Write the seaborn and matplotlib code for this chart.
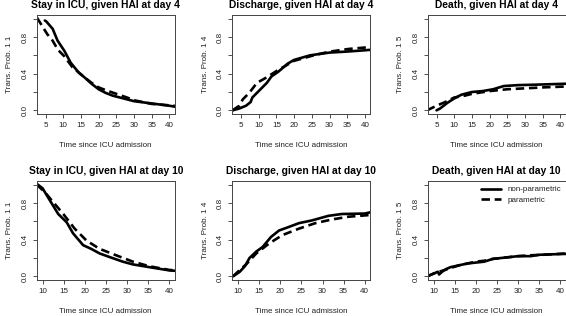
import matplotlib

matplotlib.use("Agg")
import matplotlib.pyplot as plt
import pandas as pd
import seaborn as sns

# --- data (time since ICU admission, transition probability) ---
titles = [
    "Stay in ICU, given HAI at day 4",
    "Discharge, given HAI at day 4",
    "Death, given HAI at day 4",
    "Stay in ICU, given HAI at day 10",
    "Discharge, given HAI at day 10",
    "Death, given HAI at day 10",
]
ylabels = ["Trans. Prob. 1 1", "Trans. Prob. 1 4", "Trans. Prob. 1 5"] * 2
methods = ["non-parametric", "parametric"]

# HAI at day 4
t_stay4_np = [4.8, 5.2, 7.0, 8.4, 10.3, 12.1, 14.4, 16, 18, 20, 22, 24, 26, 28, 30, 32, 34, 36, 38, 40, 41.5]
p_stay4_np = [0.98, 0.97, 0.89, 0.76, 0.65, 0.52, 0.41, 0.36, 0.29, 0.23, 0.19, 0.16, 0.14, 0.12, 0.10, 0.09, 0.08, 0.07, 0.06, 0.05, 0.04]
t_stay4_p = [2.6, 4.2, 5.5, 7.0, 8.5, 10.3, 12.6, 14.5, 16, 18, 20, 22, 25, 28, 30, 35, 41.5]
p_stay4_p = [1.01, 0.91, 0.83, 0.76, 0.66, 0.59, 0.47, 0.41, 0.36, 0.30, 0.25, 0.22, 0.18, 0.14, 0.11, 0.07, 0.05]

t_dis4_np = [2.6, 4.5, 6.4, 7.7, 8.2, 10.5, 12.3, 13.6, 15.5, 18.2, 20, 24.5, 30, 34.5, 40, 41.5]
p_dis4_np = [0.0, 0.02, 0.05, 0.09, 0.14, 0.23, 0.30, 0.37, 0.42, 0.51, 0.55, 0.60, 0.63, 0.64, 0.655, 0.66]
t_dis4_p = [2.6, 4.5, 5.5, 7.3, 9.5, 11.8, 15.5, 20, 25.5, 30, 35.5, 41.5]
p_dis4_p = [0.0, 0.05, 0.12, 0.19, 0.30, 0.35, 0.44, 0.54, 0.60, 0.64, 0.67, 0.69]

t_dth4_np = [5.0, 6.0, 8.0, 10.0, 12.0, 15.0, 18.0, 21.0, 24.0, 28.0, 33.0, 41.5]
p_dth4_np = [0.0, 0.02, 0.08, 0.13, 0.17, 0.20, 0.21, 0.23, 0.265, 0.275, 0.28, 0.29]
t_dth4_p = [2.3, 5.0, 8.0, 10.0, 13.0, 15.0, 20.0, 25.0, 30.0, 35.0, 41.5]
p_dth4_p = [0.0, 0.05, 0.10, 0.14, 0.16, 0.18, 0.21, 0.23, 0.24, 0.25, 0.26]

# HAI at day 10
t_stay10_np = [8.6, 10.0, 11.7, 13.7, 15.7, 17.2, 19.6, 21.5, 23.5, 25.9, 29.0, 31.4, 35.3, 40.0, 41.5]
p_stay10_np = [1.01, 0.96, 0.83, 0.68, 0.59, 0.47, 0.34, 0.30, 0.25, 0.21, 0.16, 0.13, 0.10, 0.065, 0.06]
t_stay10_p = [8.6, 10.5, 12.5, 14.9, 17.6, 20.4, 23.5, 27.4, 31.4, 35.3, 40.0, 41.5]
p_stay10_p = [1.0, 0.92, 0.81, 0.68, 0.52, 0.39, 0.30, 0.23, 0.16, 0.11, 0.07, 0.065]

t_dis10_np = [8.8, 10.4, 11.6, 12.7, 14.3, 15.8, 17.8, 19.7, 22.1, 24.4, 27.5, 31.4, 34.6, 40.0, 41.5]
p_dis10_np = [0.0, 0.05, 0.11, 0.20, 0.27, 0.32, 0.43, 0.50, 0.54, 0.58, 0.61, 0.66, 0.68, 0.685, 0.70]
t_dis10_p = [8.8, 10.4, 11.9, 14.3, 17.4, 20.5, 24.4, 28.3, 32.2, 36.1, 41.5]
p_dis10_p = [0.0, 0.07, 0.13, 0.25, 0.36, 0.45, 0.52, 0.58, 0.62, 0.65, 0.67]

t_dth10_np = [8.5, 10, 11, 11.3, 12, 13, 14, 16, 18, 20, 22, 24, 26, 28, 30, 33, 35, 38, 41.5]
p_dth10_np = [0.0, 0.03, 0.05, 0.02, 0.05, 0.08, 0.10, 0.12, 0.14, 0.15, 0.16, 0.19, 0.20, 0.21, 0.22, 0.22, 0.235, 0.24, 0.245]
t_dth10_p = [8.5, 10, 12, 14, 16, 18, 20, 22, 24, 26, 28, 30, 33, 36, 41.5]
p_dth10_p = [0.0, 0.03, 0.06, 0.09, 0.12, 0.14, 0.16, 0.17, 0.19, 0.20, 0.21, 0.22, 0.23, 0.235, 0.25]

panels = [
    (t_stay4_np, p_stay4_np, t_stay4_p, p_stay4_p),
    (t_dis4_np, p_dis4_np, t_dis4_p, p_dis4_p),
    (t_dth4_np, p_dth4_np, t_dth4_p, p_dth4_p),
    (t_stay10_np, p_stay10_np, t_stay10_p, p_stay10_p),
    (t_dis10_np, p_dis10_np, t_dis10_p, p_dis10_p),
    (t_dth10_np, p_dth10_np, t_dth10_p, p_dth10_p),
]
xticks_top = [5, 10, 15, 20, 25, 30, 35, 40]
xticks_bottom = [10, 15, 20, 25, 30, 35, 40]
yticks = [0.0, 0.2, 0.4, 0.6, 0.8, 1.0]
yticklabels = ["0.0", "", "0.4", "", "0.8", ""]

sns.set_style("ticks")
plt.rcParams["font.family"] = ["Liberation Sans", "DejaVu Sans"]

W, H = 566, 316
fig = plt.figure(figsize=(W / 100, H / 100), dpi=100)

col_left = [36.7, 232.2, 427.7]
row_top = [15, 181]
box_w, box_h = 138, 99

text_col = "#222222"
for i, (tn, pn, tp, pp) in enumerate(panels):
    r, c = divmod(i, 3)
    ax = fig.add_axes([col_left[c] / W, 1 - (row_top[r] + box_h) / H, box_w / W, box_h / H])

    df = pd.concat([
        pd.DataFrame({"time": tn, "prob": pn, "method": methods[0]}),
        pd.DataFrame({"time": tp, "prob": pp, "method": methods[1]}),
    ])
    sns.lineplot(
        data=df, x="time", y="prob", style="method", color="black",
        dashes={methods[0]: "", methods[1]: (3.2, 1.8)},
        linewidth=1.9, sort=False, estimator=None, ax=ax, legend=(i == 5),
    )

    if r == 0:
        ax.set_xlim(2.5, 41.5)
        ax.set_xticks(xticks_top)
    else:
        ax.set_xlim(8.6, 41.3)
        ax.set_xticks(xticks_bottom)
    ax.set_ylim(-0.04, 1.04)
    ax.set_yticks(yticks)
    ax.set_yticklabels(yticklabels, rotation=90, va="center")

    ax.set_title(titles[i], fontsize=7.4, fontweight="bold", pad=5, color="black")
    ax.set_xlabel("Time since ICU admission", fontsize=5.8, labelpad=9, color=text_col)
    ax.set_ylabel(ylabels[i], fontsize=5.8, labelpad=6, color=text_col)
    ax.tick_params(axis="both", direction="out", length=3, width=0.6, labelsize=5.8,
                   colors="#333333", labelcolor=text_col, pad=3)
    for side in ["left", "right", "top", "bottom"]:
        ax.spines[side].set_visible(True)
        ax.spines[side].set_linewidth(0.7)
        ax.spines[side].set_color("#444444")

    if i == 5:
        leg = ax.legend(frameon=False, loc="upper right", fontsize=5.8, handlelength=2.4,
                        borderaxespad=0.2, labelspacing=0.3, title=None)
        for txt in leg.get_texts():
            txt.set_color(text_col)

fig.savefig("out.png", dpi=100)
